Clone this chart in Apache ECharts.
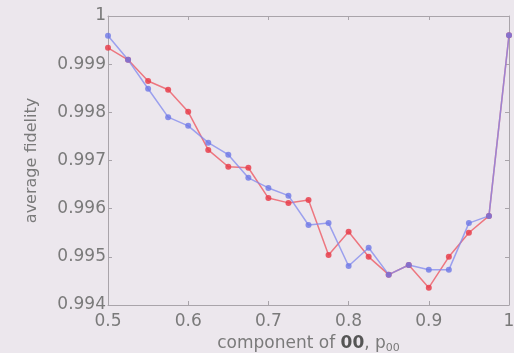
<!DOCTYPE html>
<html>
<head>
<meta charset="utf-8">
<script src="https://cdn.jsdelivr.net/npm/echarts@6/dist/echarts.min.js"></script>
<style>
  html, body { margin: 0; padding: 0; background: #ece7ed; }
  #main { width: 514px; height: 353px; }
</style>
</head>
<body>
<div id="main"></div>
<script>
// p_00 values along the x axis
var p00 = [0.5, 0.525, 0.55, 0.575, 0.6, 0.625, 0.65, 0.675, 0.7, 0.725, 0.75,
           0.775, 0.8, 0.825, 0.85, 0.875, 0.9, 0.925, 0.95, 0.975, 1.0];
// blue curve
var blueFid = [0.99959, 0.99909, 0.99849, 0.99790, 0.99772, 0.99737, 0.99712, 0.99664,
               0.99643, 0.99627, 0.99566, 0.99570, 0.99481, 0.99519, 0.99463, 0.99483,
               0.99473, 0.99473, 0.99570, 0.99585, 0.99960];
// red curve
var redFid = [0.99934, 0.99909, 0.99865, 0.99847, 0.99801, 0.99722, 0.99687, 0.99685,
              0.99622, 0.99612, 0.99618, 0.99504, 0.99552, 0.99500, 0.99463, 0.99483,
              0.99436, 0.99500, 0.99550, 0.99585, 0.99960];

function pairs(xs, ys) {
  return xs.map(function (x, i) { return [x, ys[i]]; });
}

var labelCol = '#7a7a7a';
var axisCol = '#a9a4aa';
var font = 'DejaVu Sans';

var chart = echarts.init(document.getElementById('main'));

var option = {
  backgroundColor: '#ece7ed',
  animation: false,
  grid: { left: 108, right: 5, top: 16, bottom: 48, outerBoundsMode: 'none' },
  xAxis: [
    {
      type: 'value', min: 0.5, max: 1, interval: 0.1,
      axisLine: { lineStyle: { color: axisCol } },
      axisTick: { inside: true, length: 4, lineStyle: { color: axisCol } },
      splitLine: { show: false },
      axisLabel: {
        color: labelCol, fontFamily: font, fontSize: 17, margin: 8,
        formatter: function (v) { return +v.toFixed(1) + ''; }
      },
      name: '{a|component of }{b|00}{a|, p}{s|00}',
      nameLocation: 'middle', nameGap: 24,
      nameTextStyle: {
        rich: {
          a: { color: labelCol, fontFamily: font, fontSize: 17 },
          b: { color: '#555', fontFamily: font, fontSize: 17, fontWeight: 'bold' },
          s: { color: labelCol, fontFamily: font, fontSize: 11, padding: [9, 0, 0, 0] }
        }
      }
    },
    {
      type: 'value', position: 'top', min: 0.5, max: 1, interval: 0.1,
      axisLine: { show: true, lineStyle: { color: axisCol } },
      axisTick: { inside: true, length: 4, lineStyle: { color: axisCol } },
      axisLabel: { show: false }, splitLine: { show: false }
    }
  ],
  yAxis: [
    {
      type: 'value', min: 0.994, max: 1, interval: 0.001,
      axisLine: { show: true, lineStyle: { color: axisCol } },
      axisTick: { show: true, inside: true, length: 4, lineStyle: { color: axisCol } },
      splitLine: { show: false },
      axisLabel: {
        color: labelCol, fontFamily: font, fontSize: 17, margin: 2,
        formatter: function (v) { return +v.toFixed(3) + ''; }
      },
      name: 'average fidelity',
      nameLocation: 'middle', nameGap: 68,
      nameTextStyle: { color: labelCol, fontFamily: font, fontSize: 16 }
    },
    {
      type: 'value', position: 'right', min: 0.994, max: 1, interval: 0.001,
      axisLine: { show: true, lineStyle: { color: axisCol } },
      axisTick: { show: true, inside: true, length: 4, lineStyle: { color: axisCol } },
      axisLabel: { show: false }, splitLine: { show: false }
    }
  ],
  series: [
    {
      name: 'red', type: 'line', data: pairs(p00, redFid),
      symbol: 'circle', symbolSize: 6,
      itemStyle: { color: '#e8404c', opacity: 0.85 },
      lineStyle: { color: '#ee5a64', width: 1.5, opacity: 0.8 }
    },
    {
      name: 'blue', type: 'line', data: pairs(p00, blueFid),
      symbol: 'circle', symbolSize: 6,
      itemStyle: { color: '#6e78e6', opacity: 0.8 },
      lineStyle: { color: '#8088ee', width: 1.5, opacity: 0.75 }
    }
  ]
};

chart.setOption(option);
</script>
</body>
</html>
